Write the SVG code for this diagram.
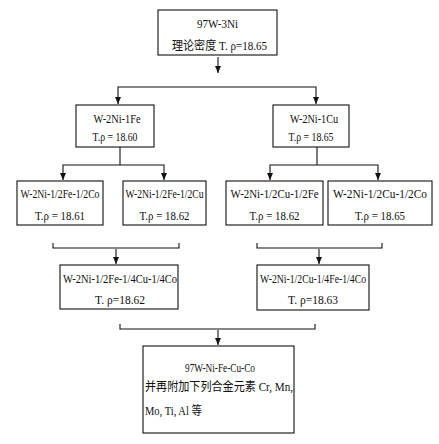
<svg xmlns="http://www.w3.org/2000/svg" width="439" height="444" viewBox="0 0 439 444">
<style>
.box{fill:#fff;stroke:#111;stroke-width:1.1}
.t{font-family:"Liberation Serif","Noto Sans CJK SC",serif;font-size:12.5px;fill:#111;text-anchor:middle}
.tl{font-family:"Liberation Serif","Noto Sans CJK SC",serif;font-size:12.5px;fill:#111;text-anchor:start}
.c{fill:none;stroke:#111;stroke-width:1.1}
</style>
<defs>
<marker id="ah" markerUnits="userSpaceOnUse" markerWidth="8" markerHeight="8" refX="7" refY="3" orient="auto">
<path d="M0,0 L7,3 L0,6 z" fill="#111"/>
</marker>
</defs>
<rect width="439" height="444" fill="#fff"/>
<g id="connectors">
<path class="c" d="M218,57 L218,73" marker-end="url(#ah)"/>
<path class="c" d="M217,87 L118,87 L118,104" marker-end="url(#ah)"/>
<path class="c" d="M217,87 L316,87 L316,104" marker-end="url(#ah)"/>
<path class="c" d="M120,147 L120,165"/>
<path class="c" d="M120,165 L63,165 L63,180" marker-end="url(#ah)"/>
<path class="c" d="M120,165 L164,165 L164,180" marker-end="url(#ah)"/>
<path class="c" d="M317,147 L317,165"/>
<path class="c" d="M317,165 L270,165 L270,180" marker-end="url(#ah)"/>
<path class="c" d="M317,165 L378,165 L378,180" marker-end="url(#ah)"/>
<path class="c" d="M53,243 L53,248 L179,248 L179,243"/>
<path class="c" d="M116,249 L116,264" marker-end="url(#ah)"/>
<path class="c" d="M257,243 L257,248 L382,248 L382,243"/>
<path class="c" d="M319,249 L319,264" marker-end="url(#ah)"/>
<path class="c" d="M120,324 L120,329 L315,329 L315,324"/>
<path class="c" d="M218,330 L218,345" marker-end="url(#ah)"/>
</g>
<g id="n_97W3Ni">
<rect class="box" x="158" y="10" width="119" height="45"/>
<text class="t" x="217.5" y="28" textLength="41" lengthAdjust="spacingAndGlyphs">97W-3Ni</text>
<text class="t" x="219.5" y="50" textLength="95" lengthAdjust="spacingAndGlyphs">理论密度 T. ρ=18.65</text>
</g>
<g id="n_W2Ni1Fe">
<rect class="box" x="76" y="105" width="78" height="42"/>
<text class="t" x="117" y="123" textLength="47" lengthAdjust="spacingAndGlyphs">W-2Ni-1Fe</text>
<text class="t" x="115" y="141" textLength="45" lengthAdjust="spacingAndGlyphs">T.ρ = 18.60</text>
</g>
<g id="n_W2Ni1Cu">
<rect class="box" x="273" y="105" width="76" height="42"/>
<text class="t" x="314" y="123" textLength="48" lengthAdjust="spacingAndGlyphs">W-2Ni-1Cu</text>
<text class="t" x="311" y="141" textLength="45" lengthAdjust="spacingAndGlyphs">T.ρ = 18.65</text>
</g>
<g id="n_FeCo">
<rect class="box" x="17" y="181" width="86" height="44"/>
<text class="t" x="60" y="198" textLength="79" lengthAdjust="spacingAndGlyphs">W-2Ni-1/2Fe-1/2Co</text>
<text class="t" x="60" y="220" textLength="50" lengthAdjust="spacingAndGlyphs">T.ρ = 18.61</text>
</g>
<g id="n_FeCu">
<rect class="box" x="123" y="181" width="83" height="44"/>
<text class="t" x="164.5" y="198" textLength="78" lengthAdjust="spacingAndGlyphs">W-2Ni-1/2Fe-1/2Cu</text>
<text class="t" x="164.5" y="220" textLength="50" lengthAdjust="spacingAndGlyphs">T.ρ = 18.62</text>
</g>
<g id="n_CuFe">
<rect class="box" x="226" y="181" width="97" height="44"/>
<text class="t" x="274.5" y="198" textLength="88" lengthAdjust="spacingAndGlyphs">W-2Ni-1/2Cu-1/2Fe</text>
<text class="t" x="274.5" y="220" textLength="50" lengthAdjust="spacingAndGlyphs">T.ρ = 18.62</text>
</g>
<g id="n_CuCo">
<rect class="box" x="328" y="181" width="104" height="44"/>
<text class="t" x="380" y="198" textLength="94" lengthAdjust="spacingAndGlyphs">W-2Ni-1/2Cu-1/2Co</text>
<text class="t" x="380" y="220" textLength="50" lengthAdjust="spacingAndGlyphs">T.ρ = 18.65</text>
</g>
<g id="n_FeCuCo">
<rect class="box" x="60" y="265" width="118" height="44"/>
<text class="t" x="120" y="283" textLength="114" lengthAdjust="spacingAndGlyphs">W-2Ni-1/2Fe-1/4Cu-1/4Co</text>
<text class="t" x="120" y="304" textLength="50" lengthAdjust="spacingAndGlyphs">T.  ρ=18.62</text>
</g>
<g id="n_CuFeCo">
<rect class="box" x="257" y="265" width="112" height="45"/>
<text class="t" x="313" y="283" textLength="106" lengthAdjust="spacingAndGlyphs">W-2Ni-1/2Cu-1/4Fe-1/4Co</text>
<text class="t" x="313" y="304" textLength="50" lengthAdjust="spacingAndGlyphs">T.  ρ=18.63</text>
</g>
<g id="n_final">
<rect class="box" x="143" y="346" width="151" height="87"/>
<text class="t" x="220" y="372" textLength="70" lengthAdjust="spacingAndGlyphs">97W-Ni-Fe-Cu-Co</text>
<text class="tl" x="145" y="391" textLength="148" lengthAdjust="spacingAndGlyphs">并再附加下列合金元素 Cr, Mn,</text>
<text class="tl" x="145" y="415" textLength="57" lengthAdjust="spacingAndGlyphs">Mo, Ti, Al 等</text>
</g>
</svg>
